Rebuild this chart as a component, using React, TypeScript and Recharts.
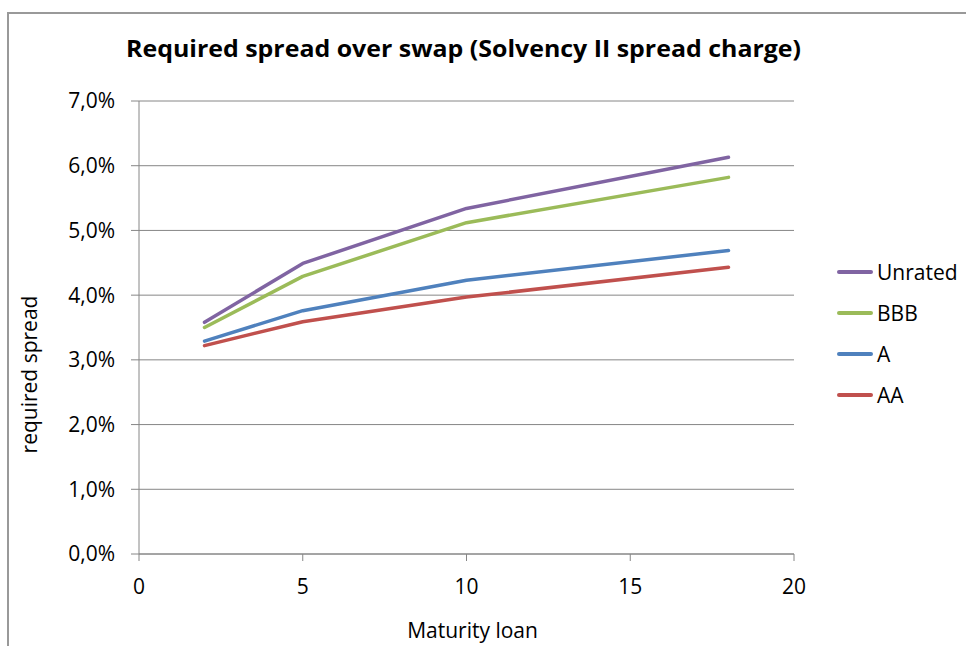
import { CartesianGrid, Line, LineChart, XAxis, YAxis } from 'recharts';

const MATURITY = [2, 5, 10, 18];
const UNRATED = [3.58, 4.49, 5.34, 6.13];
const BBB = [3.5, 4.29, 5.12, 5.82];
const A = [3.29, 3.76, 4.23, 4.69];
const AA = [3.22, 3.59, 3.97, 4.43];
const X_TICKS = [0, 5, 10, 15, 20];
const Y_TICKS = [0, 1, 2, 3, 4, 5, 6, 7];

const SERIES = [
  { key: 'unrated', name: 'Unrated', color: '#8064A2' },
  { key: 'bbb', name: 'BBB', color: '#9BBB59' },
  { key: 'a', name: 'A', color: '#4F81BD' },
  { key: 'aa', name: 'AA', color: '#C0504D' },
];

const data = MATURITY.map((m, i) => ({ m, unrated: UNRATED[i], bbb: BBB[i], a: A[i], aa: AA[i] }));

const FONT = '"Open Sans", sans-serif';
const AXIS = '#868686';
const tickStyle = { fontSize: 21, fill: '#000', fontFamily: FONT };

// legend sits outside the chart so it doesn't eat into the plot area
function LegendBox() {
  return (
    <div style={{ position: 'absolute', left: 837, top: 251, fontFamily: FONT, fontSize: 21, color: '#000' }}>
      {SERIES.map(s => (
        <div key={s.key} style={{ display: 'flex', alignItems: 'center', height: 41 }}>
          <div style={{ width: 36, height: 4, borderRadius: 2, background: s.color, marginRight: 4 }} />
          <span>{s.name}</span>
        </div>
      ))}
    </div>
  );
}

export default function App() {
  return (
    <div style={{ position: 'absolute', left: 0, top: 0, width: 966, height: 646, overflow: 'hidden', background: '#fff' }}>
      <div style={{ position: 'absolute', left: 7, top: 12, width: 1000, height: 700, borderLeft: '2px solid #999', borderTop: '2px solid #999' }} />
      <svg width={966} height={80} style={{ position: 'absolute', left: 0, top: 0 }}>
        <text x={126} y={57} textLength={675} lengthAdjust="spacingAndGlyphs"
          style={{ fontFamily: FONT, fontWeight: 700, fontSize: 24, fill: '#000' }}>
          Required spread over swap (Solvency II spread charge)
        </text>
      </svg>
      <div style={{ position: 'absolute', left: 0, top: 0 }}>
        <LineChart width={966} height={646} data={data} margin={{ top: 101, right: 172, left: 0, bottom: 32 }}>
          <CartesianGrid vertical={false} stroke={AXIS} strokeWidth={1} />
          <XAxis dataKey="m" type="number" domain={[0, 20]} ticks={X_TICKS} height={60}
            stroke={AXIS} tickSize={7} tickMargin={18} tick={tickStyle} tickLine={{ stroke: AXIS }}
            label={{ value: 'Maturity loan', position: 'insideBottom', offset: -24, style: { fontSize: 21, fill: '#000', fontFamily: FONT }, dx: 6 }} />
          <YAxis type="number" domain={[0, 7]} ticks={Y_TICKS} width={139} stroke={AXIS}
            tickSize={8} tickMargin={16} tick={tickStyle} tickLine={{ stroke: AXIS }}
            tickFormatter={(v: number) => v.toFixed(1).replace('.', ',') + '%'}
            label={{ value: 'required spread', angle: -90, position: 'insideLeft', offset: 0, dx: 30, dy: 47, style: { fontSize: 21, fill: '#000', fontFamily: FONT, textAnchor: 'middle' } }} />
          {SERIES.map(s => (
            <Line key={s.key} type="linear" dataKey={s.key} name={s.name} stroke={s.color}
              strokeWidth={3.5} dot={false} isAnimationActive={false} strokeLinecap="round" strokeLinejoin="round" />
          ))}
        </LineChart>
      </div>
      <LegendBox />
    </div>
  );
}
